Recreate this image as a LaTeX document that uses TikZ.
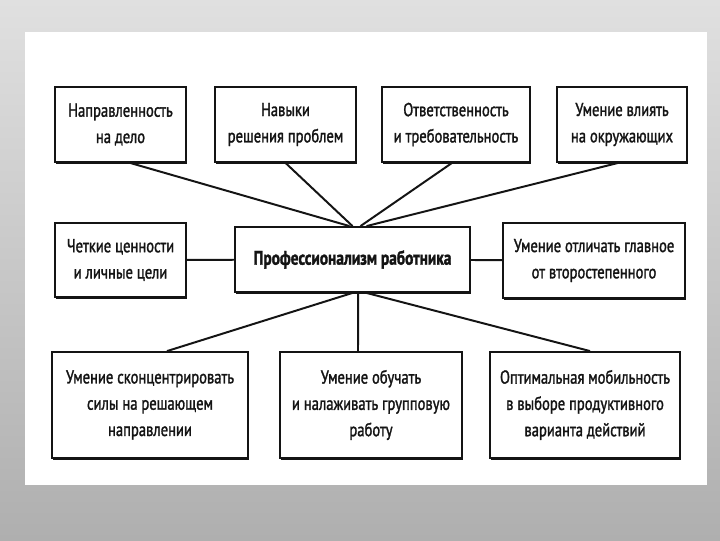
\documentclass[tikz,border=0pt]{standalone}
\usepackage{fontspec}
\setmainfont{PT Sans}[FakeStretch=0.78, FakeBold=1.5]
\usepackage{xcolor}
\usetikzlibrary{shadows}
\definecolor{pagecol}{HTML}{FFFFFF}
\definecolor{bgtop}{HTML}{E0E0E0}
\definecolor{bgbot}{HTML}{AFAFAF}
\definecolor{inkcol}{HTML}{141414}
\tikzset{
  itembox/.style = {draw=inkcol, line width=1.3pt, fill=white, align=center,
                    font=\fontsize{13.3}{18.7}\selectfont, text=inkcol,
                    inner sep=2pt,
                    drop shadow={shadow xshift=0.9pt, shadow yshift=-1.1pt,
                                 fill=inkcol, opacity=1}},
  mainbox/.style = {itembox, font=\fontsize{14}{16}\selectfont\bfseries},
  link/.style    = {draw=inkcol, line width=1.4pt},
}
\begin{document}
\begin{tikzpicture}[x=0.025cm, y=-0.025cm]
    \useasboundingbox (0,0) rectangle (720,540);
    % ---------------- backdrop and scanned page
    \shade[top color=bgtop, bottom color=bgbot] (0,0) rectangle (720,540);
    \fill[pagecol] (25,32) rectangle (707,485);

    % ---------------- top row
    \node[itembox, minimum width=3.275cm, minimum height=1.875cm] (nd) at (120.5,124.5)
      {Направленность\\на дело};
    \node[itembox, minimum width=3.525cm, minimum height=1.875cm] (nr) at (285.5,124.5)
      {Навыки\\решения проблем};
    \node[itembox, minimum width=3.70cm, minimum height=1.875cm] (ot) at (456,124.5)
      {Ответственность\\и требовательность};
    \node[itembox, minimum width=3.25cm, minimum height=1.875cm] (uv) at (622,124.5)
      {Умение влиять\\на окружающих};

    % ---------------- middle row
    \node[itembox, minimum width=3.275cm, minimum height=1.85cm] (ch) at (120.5,260)
      {Четкие ценности\\и личные цели};
    \node[mainbox, minimum width=5.875cm, minimum height=1.625cm] (pr) at (352.5,259.5)
      {Профессионализм работника};
    \node[itembox, minimum width=4.55cm, minimum height=1.875cm] (uo) at (594,260.5)
      {Умение отличать главное\\от второстепенного};

    % ---------------- bottom row
    \node[itembox, minimum width=4.9cm, minimum height=2.65cm] (us) at (150,405)
      {Умение сконцентрировать\\силы на решающем\\направлении};
    \node[itembox, minimum width=4.55cm, minimum height=2.65cm] (ug) at (371,405)
      {Умение обучать\\и налаживать групповую\\работу};
    \node[itembox, minimum width=4.75cm, minimum height=2.65cm] (om) at (585,405)
      {Оптимальная мобильность\\в выборе продуктивного\\варианта действий};

    % ---------------- links
    \foreach \a/\dx/\bx in {nd/-0.075/0.24, nr/0/0, ot/0.2/-0.1, uv/0.35/-0.1}
      {\draw[link] ([xshift=\bx cm]\a.south) -- ([xshift=\dx cm]pr.north);}
    \draw[link] (ch) -- (pr);
    \draw[link] (pr) -- (uo);
    \foreach \a/\dx/\bx in {us/0/0.425, ug/0.14/-0.325, om/0.35/0.125}
      {\draw[link] ([xshift=\dx cm]pr.south) -- ([xshift=\bx cm]\a.north);}
\end{tikzpicture}
\end{document}
